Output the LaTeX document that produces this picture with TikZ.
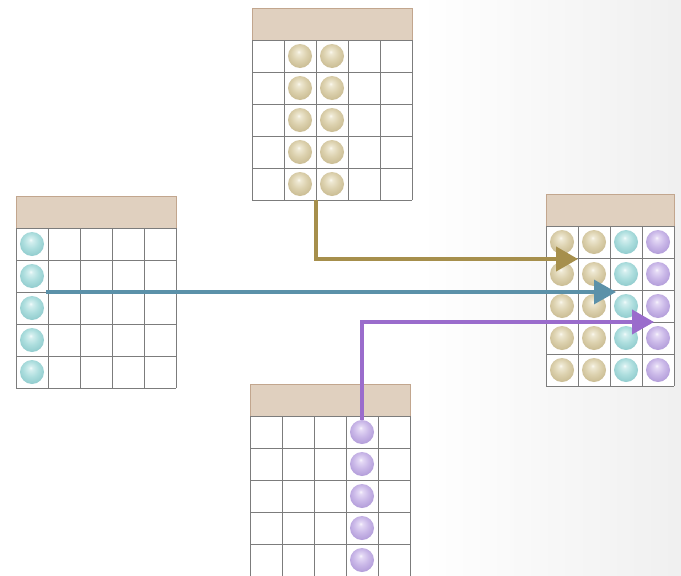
\documentclass[tikz,border=0pt]{standalone}
\usetikzlibrary{arrows.meta}

% palette
\definecolor{hdrfill}{HTML}{E0D0BF}
\definecolor{hdrline}{HTML}{C2A68E}
\definecolor{gridline}{HTML}{7C7C7C}
\definecolor{tanarrow}{HTML}{A68F4C}
\definecolor{bluearrow}{HTML}{5B91A9}
\definecolor{purplearrow}{HTML}{9A6CCC}

\definecolor{tanA}{HTML}{FBF9F0}
\definecolor{tanB}{HTML}{EEE8D2}
\definecolor{tanC}{HTML}{DCD1AE}
\definecolor{tanD}{HTML}{C8BA90}
\definecolor{cyanA}{HTML}{F4FCFC}
\definecolor{cyanB}{HTML}{D4EFEF}
\definecolor{cyanC}{HTML}{ADDEDE}
\definecolor{cyanD}{HTML}{8ECACC}
\definecolor{purA}{HTML}{F9F6FD}
\definecolor{purB}{HTML}{E4D9F5}
\definecolor{purC}{HTML}{CAB8E8}
\definecolor{purD}{HTML}{B09AD8}

% soft spheres, lit from above
\pgfdeclareradialshading{tanball}{\pgfqpoint{-3bp}{9bp}}{%
  color(0bp)=(tanA); color(4bp)=(tanB); color(16bp)=(tanC);
  color(30bp)=(tanD); color(50bp)=(tanD)}
\pgfdeclareradialshading{cyanball}{\pgfqpoint{-3bp}{9bp}}{%
  color(0bp)=(cyanA); color(4bp)=(cyanB); color(16bp)=(cyanC);
  color(30bp)=(cyanD); color(50bp)=(cyanD)}
\pgfdeclareradialshading{purpleball}{\pgfqpoint{-3bp}{9bp}}{%
  color(0bp)=(purA); color(4bp)=(purB); color(16bp)=(purC);
  color(30bp)=(purD); color(50bp)=(purD)}

\tikzset{
  header/.style={fill=hdrfill, draw=hdrline, line width=0.9pt},
  cellgrid/.style={draw=gridline, line width=0.8pt},
  ballT/.style={shading=tanball},
  ballC/.style={shading=cyanball},
  ballP/.style={shading=purpleball},
  flow/.style={line width=4pt, -{Triangle[length=22pt,width=24pt]}},
}

% table: #1 = left, #2 = header top, #3 = columns, #4 = rows (cells 32pt)
\newcommand{\datatable}[4]{%
  \draw[header] (#1,#2) rectangle ++(#3*32,32);
  \fill[white] (#1,#2+32) rectangle ++(#3*32,#4*32);
  \foreach \c in {0,...,#3} \draw[cellgrid] (#1+\c*32,#2+32) -- ++(0,#4*32);
  \foreach \r in {0,...,#4} \draw[cellgrid] (#1,#2+32+\r*32) -- ++(#3*32,0);
}
% a column of balls: #1 = style, #2 = centre x, #3 = first centre y
\newcommand{\ballcolumn}[3]{%
  \foreach \r in {0,...,4} \shade[#1] (#2,#3+\r*32) circle (12);
}

\begin{document}
\begin{tikzpicture}[x=1pt, y=-1pt]
  % canvas and faint grey wash on the right
  \useasboundingbox (0,0) rectangle (681,576);
  \fill[white] (0,0) rectangle (681,576);
  \shade[left color=white, right color=black!6] (420,0) rectangle (681,576);

  % source table, top
  \datatable{252}{8}{5}{5}
  \ballcolumn{ballT}{300}{56}
  \ballcolumn{ballT}{332}{56}

  % source table, left
  \datatable{16}{196}{5}{5}
  \ballcolumn{ballC}{32}{244}

  % source table, bottom
  \datatable{250}{384}{5}{5}
  \ballcolumn{ballP}{362}{432}

  % merged table, right
  \datatable{546}{194}{4}{5}
  \ballcolumn{ballT}{562}{242}
  \ballcolumn{ballT}{594}{242}
  \ballcolumn{ballC}{626}{242}
  \ballcolumn{ballP}{658}{242}

  % connector end points
  \coordinate (tanFrom) at (316,200);
  \coordinate (tanTo) at (578,259);
  \coordinate (blueFrom) at (46,292);
  \coordinate (blueTo) at (616,292);
  \coordinate (purpleFrom) at (362,420);
  \coordinate (purpleTo) at (654,322);

  \draw[flow, draw=tanarrow] (tanFrom) |- (tanTo);
  \draw[flow, line width=3.2pt, draw=bluearrow] (blueFrom) -- (blueTo);
  \draw[flow, draw=purplearrow] (purpleFrom) |- (purpleTo);
\end{tikzpicture}
\end{document}
